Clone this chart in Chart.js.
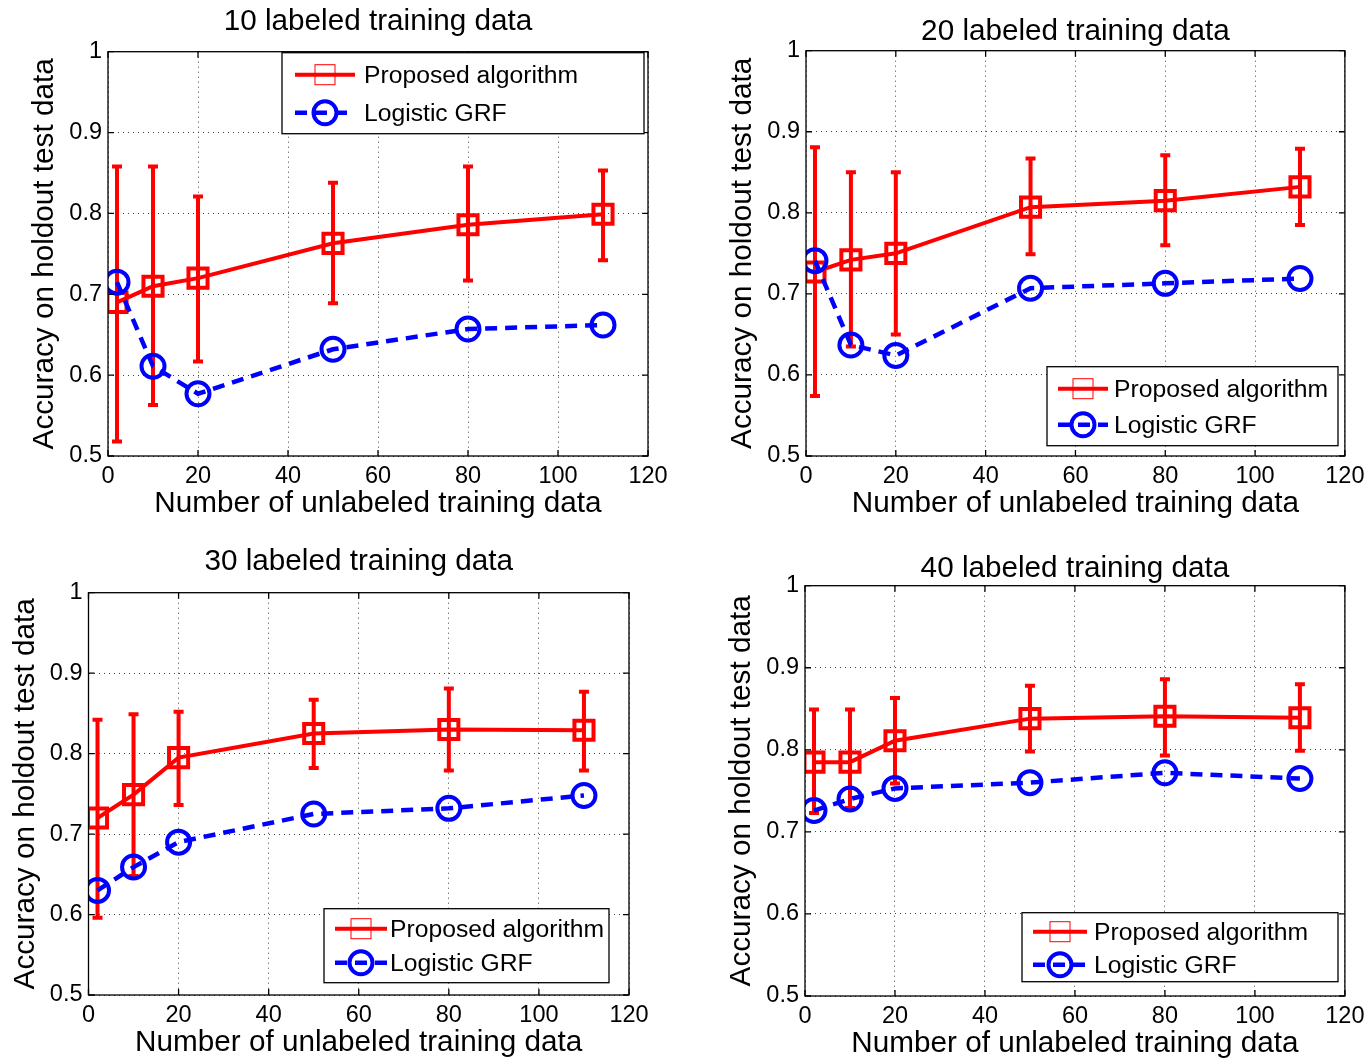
<!DOCTYPE html>
<html>
<head>
<meta charset="utf-8">
<title>Accuracy vs. unlabeled training data</title>
<script src="https://cdn.jsdelivr.net/npm/chart.js@4.4.1/dist/chart.umd.min.js"></script>
<style>
  html, body { margin: 0; padding: 0; background: #fff; overflow: hidden; }
  #page { position: relative; width: 1371px; height: 1059px; }
  #page canvas { position: absolute; }
</style>
</head>
<body>
<div id="page"></div>
<script>
// ---- data ----
const unlabeled = [2, 10, 20, 50, 80, 110];
const xTicks = [0, 20, 40, 60, 80, 100, 120];
const yTicks = [0.5, 0.6, 0.7, 0.8, 0.9, 1];
const seriesNames = ['Proposed algorithm', 'Logistic GRF'];
const chartTitles = ['10 labeled training data', '20 labeled training data',
                     '30 labeled training data', '40 labeled training data'];
const xTitle = 'Number of unlabeled training data';
const yTitle = 'Accuracy on holdout test data';

// 10 labeled
const proposed10 = [0.690, 0.710, 0.720, 0.763, 0.786, 0.799];
const proposed10Low = [0.518, 0.563, 0.617, 0.689, 0.717, 0.742];
const proposed10High = [0.858, 0.858, 0.821, 0.838, 0.858, 0.853];
const grf10 = [0.715, 0.611, 0.577, 0.632, 0.657, 0.662];

// 20 labeled
const proposed20 = [0.727, 0.742, 0.750, 0.807, 0.815, 0.832];
const proposed20Low = [0.574, 0.635, 0.650, 0.749, 0.760, 0.785];
const proposed20High = [0.881, 0.850, 0.850, 0.867, 0.871, 0.879];
const grf20 = [0.741, 0.637, 0.624, 0.707, 0.713, 0.719];

// 30 labeled
const proposed30 = [0.720, 0.749, 0.795, 0.825, 0.830, 0.829];
const proposed30Low = [0.596, 0.648, 0.736, 0.782, 0.779, 0.779];
const proposed30High = [0.842, 0.849, 0.852, 0.867, 0.881, 0.877];
const grf30 = [0.630, 0.659, 0.690, 0.725, 0.732, 0.748];

// 40 labeled
const proposed40 = [0.785, 0.785, 0.811, 0.838, 0.841, 0.839];
const proposed40Low = [0.723, 0.729, 0.759, 0.798, 0.793, 0.799];
const proposed40High = [0.849, 0.849, 0.863, 0.878, 0.886, 0.880];
const grf40 = [0.726, 0.740, 0.753, 0.760, 0.772, 0.765];

const FONT = "'Liberation Sans', Arial, Helvetica, sans-serif";
const RED = '#ff0000';
const BLUE = '#0000ff';

// ---- page layout of the four panels ----
const panels = [
  { left: 0, top: 0, width: 690, height: 530,
    pad: { left: 30, right: 42, top: 6.5, bottom: 11 }, titleGap: 15.5,
    legend: { x: 174, y: 1, w: 362, h: 81, rowY: [22, 60], sample: [13, 73], textX: 82 },
    mean: proposed10, low: proposed10Low, high: proposed10High, grf: grf10 },
  { left: 690, top: 0, width: 681, height: 530,
    pad: { left: 38, right: 25, top: 16.5, bottom: 11 }, titleGap: 4.5,
    legend: { x: 241, y: 316, w: 291, h: 79, rowY: [22, 58], sample: [11, 61], textX: 67 },
    mean: proposed20, low: proposed20Low, high: proposed20High, grf: grf20 },
  { left: 0, top: 530, width: 690, height: 529,
    pad: { left: 10.5, right: 61, top: 16.5, bottom: 1 }, titleGap: 16.5,
    legend: { x: 235.5, y: 316, w: 285, h: 74, rowY: [20, 54], sample: [11, 63], textX: 66 },
    mean: proposed30, low: proposed30Low, high: proposed30High, grf: grf30 },
  { left: 690, top: 530, width: 681, height: 529,
    pad: { left: 37, right: 25, top: 23.5, bottom: 0 }, titleGap: 2.5,
    legend: { x: 217, y: 327, w: 316, h: 69, rowY: [19, 52], sample: [11, 65], textX: 72 },
    mean: proposed40, low: proposed40Low, high: proposed40High, grf: grf40 }
];

// vertical error bars with caps, drawn under the lines
const errorBars = {
  id: 'errorBars',
  beforeDatasetsDraw(chart) {
    const { ctx, scales: { x, y } } = chart;
    chart.data.datasets.forEach(ds => {
      if (!ds.errLow) return;
      ctx.save();
      ctx.strokeStyle = ds.borderColor;
      ctx.lineWidth = 4;
      ds.data.forEach((p, i) => {
        const px = x.getPixelForValue(p.x);
        const lo = y.getPixelForValue(ds.errLow[i]);
        const hi = y.getPixelForValue(ds.errHigh[i]);
        ctx.beginPath();
        ctx.moveTo(px, lo); ctx.lineTo(px, hi);
        ctx.moveTo(px - 5, lo); ctx.lineTo(px + 5, lo);
        ctx.moveTo(px - 5, hi); ctx.lineTo(px + 5, hi);
        ctx.stroke();
      });
      ctx.restore();
    });
  }
};

// matlab style box round the axes with inward ticks on all sides
const axesBox = {
  id: 'axesBox',
  afterDatasetsDraw(chart) {
    const { ctx, chartArea: a, scales: { x, y } } = chart;
    const len = 6;
    ctx.save();
    ctx.strokeStyle = '#000';
    ctx.lineWidth = 1.3;
    ctx.strokeRect(a.left, a.top, a.width, a.height);
    ctx.beginPath();
    x.ticks.forEach(t => {
      const px = x.getPixelForValue(t.value);
      ctx.moveTo(px, a.bottom); ctx.lineTo(px, a.bottom - len);
      ctx.moveTo(px, a.top); ctx.lineTo(px, a.top + len);
    });
    y.ticks.forEach(t => {
      const py = y.getPixelForValue(t.value);
      ctx.moveTo(a.left, py); ctx.lineTo(a.left + len, py);
      ctx.moveTo(a.right, py); ctx.lineTo(a.right - len, py);
    });
    ctx.stroke();
    ctx.restore();
  }
};

// boxed legend inside the axes, line sample with marker
const boxLegend = {
  id: 'boxLegend',
  afterDraw(chart, args, opts) {
    const { ctx, chartArea: a } = chart;
    const bx = a.left + opts.x, by = a.top + opts.y;
    ctx.save();
    ctx.fillStyle = '#fff';
    ctx.fillRect(bx, by, opts.w, opts.h);
    ctx.strokeStyle = '#000';
    ctx.lineWidth = 1.3;
    ctx.strokeRect(bx, by, opts.w, opts.h);
    chart.data.datasets.forEach((ds, i) => {
      const ry = by + opts.rowY[i];
      const x1 = bx + opts.sample[0], x2 = bx + opts.sample[1];
      const cx = (x1 + x2) / 2;
      ctx.strokeStyle = ds.borderColor;
      ctx.lineWidth = ds.borderWidth;
      ctx.setLineDash(ds.borderDash || []);
      ctx.beginPath();
      ctx.moveTo(x1, ry); ctx.lineTo(x2, ry);
      ctx.stroke();
      ctx.setLineDash([]);
      if (ds.pointStyle === 'rect') {
        ctx.lineWidth = 1;
        ctx.strokeRect(cx - 10, ry - 10, 20, 20);
      } else {
        ctx.lineWidth = ds.pointBorderWidth;
        ctx.beginPath();
        ctx.arc(cx, ry, ds.pointRadius, 0, Math.PI * 2);
        ctx.stroke();
      }
      ctx.fillStyle = '#000';
      ctx.font = `24.7px ${FONT}`;
      ctx.textBaseline = 'middle';
      ctx.textAlign = 'left';
      ctx.fillText(ds.label, bx + opts.textX, ry + 1);
    });
    ctx.restore();
  }
};

const toPoints = vals => vals.map((v, i) => ({ x: unlabeled[i], y: v }));

panels.forEach((p, k) => {
  const canvas = document.createElement('canvas');
  canvas.width = p.width;
  canvas.height = p.height;
  canvas.style.left = p.left + 'px';
  canvas.style.top = p.top + 'px';
  document.getElementById('page').appendChild(canvas);

  new Chart(canvas.getContext('2d'), {
    type: 'line',
    plugins: [errorBars, axesBox, boxLegend],
    data: {
      datasets: [
        {
          label: seriesNames[0],
          data: toPoints(p.mean),
          errLow: p.low,
          errHigh: p.high,
          borderColor: RED,
          borderWidth: 4,
          pointStyle: 'rect',
          pointRadius: 13.5,
          pointBorderWidth: 4,
          pointBorderColor: RED,
          pointBackgroundColor: 'rgba(0,0,0,0)',
          tension: 0,
          order: 1
        },
        {
          label: seriesNames[1],
          data: toPoints(p.grf),
          borderColor: BLUE,
          borderWidth: 4.5,
          borderDash: [12, 8],
          pointStyle: 'circle',
          pointRadius: 11.5,
          pointBorderWidth: 4,
          pointBorderColor: BLUE,
          pointBackgroundColor: 'rgba(0,0,0,0)',
          tension: 0,
          order: 0
        }
      ]
    },
    options: {
      responsive: false,
      animation: false,
      events: [],
      layout: { padding: p.pad },
      plugins: {
        legend: { display: false },
        tooltip: { enabled: false },
        title: {
          display: true,
          text: chartTitles[k],
          fullSize: false,
          color: '#000',
          font: { family: FONT, size: 29.7, weight: 'normal', lineHeight: 1 },
          padding: { top: 0, bottom: p.titleGap }
        },
        boxLegend: p.legend
      },
      scales: {
        x: {
          type: 'linear',
          min: 0,
          max: 120,
          afterBuildTicks: s => { s.ticks = xTicks.map(v => ({ value: v })); },
          afterFit: s => { s.height = 63; },
          grid: { color: '#444', lineWidth: 1, drawTicks: false },
          border: { display: false, dash: [1, 4] },
          ticks: {
            color: '#000', padding: 6.5, autoSkip: false, maxRotation: 0,
            font: { family: FONT, size: 23.5 },
            callback: v => String(v)
          },
          title: {
            display: true, text: xTitle, color: '#000', padding: 0,
            font: { family: FONT, size: 29.7, lineHeight: 1 }
          }
        },
        y: {
          min: 0.5,
          max: 1,
          afterBuildTicks: s => { s.ticks = yTicks.map(v => ({ value: v })); },
          afterFit: s => { s.width = 78; },
          grid: { color: '#444', lineWidth: 1, drawTicks: false },
          border: { display: false, dash: [1, 4] },
          ticks: {
            color: '#000', padding: 6,
            font: { family: FONT, size: 23.5 },
            callback: v => String(Number(v.toFixed(1)))
          },
          title: {
            display: true, text: yTitle, color: '#000', padding: 0,
            font: { family: FONT, size: 29.7, lineHeight: 1 }
          }
        }
      }
    }
  });
});
</script>
</body>
</html>
